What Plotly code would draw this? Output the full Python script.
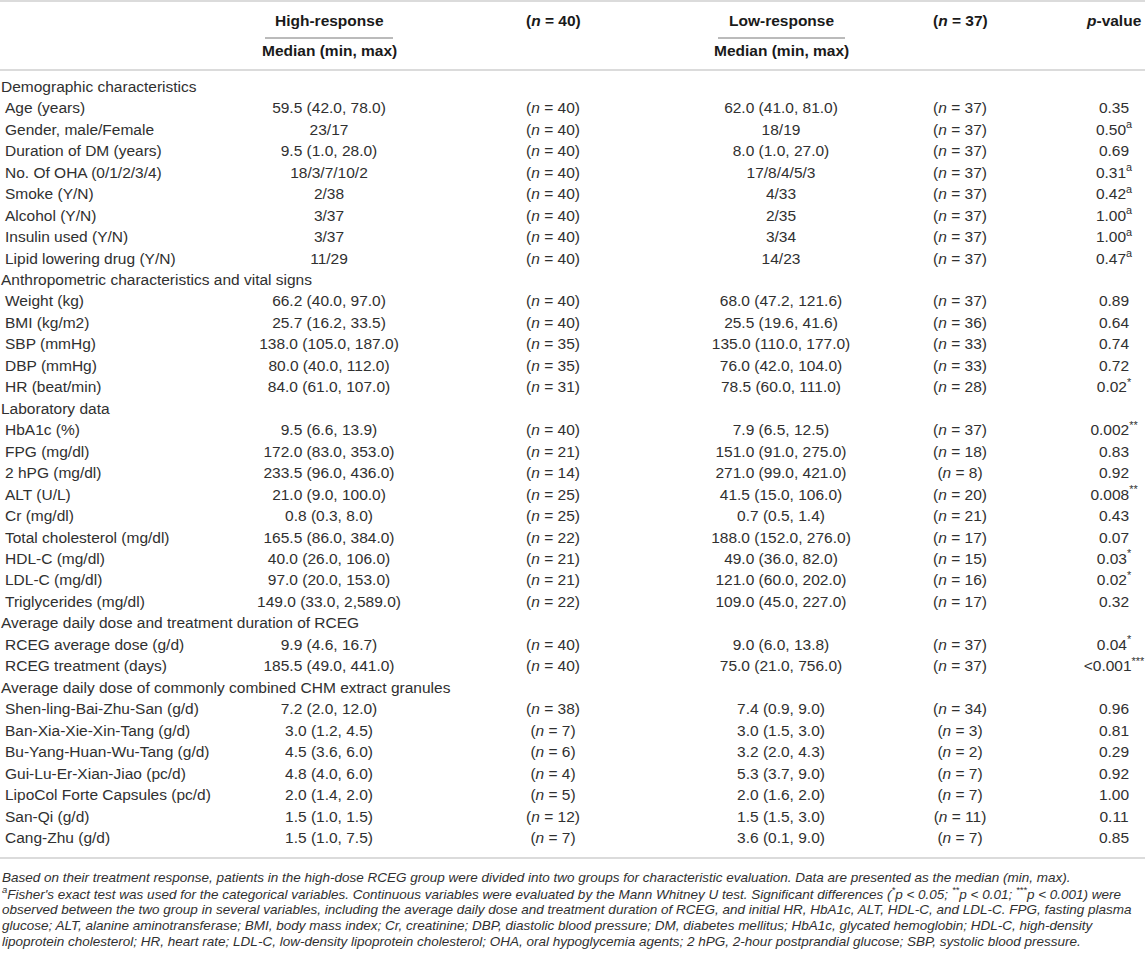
import plotly.graph_objects as go

# table content
labels = [
    "Demographic characteristics",
    "Age (years)", "Gender, male/Female", "Duration of DM (years)", "No. Of OHA (0/1/2/3/4)",
    "Smoke (Y/N)", "Alcohol (Y/N)", "Insulin used (Y/N)", "Lipid lowering drug (Y/N)",
    "Anthropometric characteristics and vital signs",
    "Weight (kg)", "BMI (kg/m2)", "SBP (mmHg)", "DBP (mmHg)", "HR (beat/min)",
    "Laboratory data",
    "HbA1c (%)", "FPG (mg/dl)", "2 hPG (mg/dl)", "ALT (U/L)", "Cr (mg/dl)",
    "Total cholesterol (mg/dl)", "HDL-C (mg/dl)", "LDL-C (mg/dl)", "Triglycerides (mg/dl)",
    "Average daily dose and treatment duration of RCEG",
    "RCEG average dose (g/d)", "RCEG treatment (days)",
    "Average daily dose of commonly combined CHM extract granules",
    "Shen-ling-Bai-Zhu-San (g/d)", "Ban-Xia-Xie-Xin-Tang (g/d)", "Bu-Yang-Huan-Wu-Tang (g/d)",
    "Gui-Lu-Er-Xian-Jiao (pc/d)", "LipoCol Forte Capsules (pc/d)", "San-Qi (g/d)", "Cang-Zhu (g/d)",
]

high_median = [
    None,
    "59.5 (42.0, 78.0)", "23/17", "9.5 (1.0, 28.0)", "18/3/7/10/2",
    "2/38", "3/37", "3/37", "11/29",
    None,
    "66.2 (40.0, 97.0)", "25.7 (16.2, 33.5)", "138.0 (105.0, 187.0)", "80.0 (40.0, 112.0)", "84.0 (61.0, 107.0)",
    None,
    "9.5 (6.6, 13.9)", "172.0 (83.0, 353.0)", "233.5 (96.0, 436.0)", "21.0 (9.0, 100.0)", "0.8 (0.3, 8.0)",
    "165.5 (86.0, 384.0)", "40.0 (26.0, 106.0)", "97.0 (20.0, 153.0)", "149.0 (33.0, 2,589.0)",
    None,
    "9.9 (4.6, 16.7)", "185.5 (49.0, 441.0)",
    None,
    "7.2 (2.0, 12.0)", "3.0 (1.2, 4.5)", "4.5 (3.6, 6.0)",
    "4.8 (4.0, 6.0)", "2.0 (1.4, 2.0)", "1.5 (1.0, 1.5)", "1.5 (1.0, 7.5)",
]

high_n = [
    None, 40, 40, 40, 40, 40, 40, 40, 40,
    None, 40, 40, 35, 35, 31,
    None, 40, 21, 14, 25, 25, 22, 21, 21, 22,
    None, 40, 40,
    None, 38, 7, 6, 4, 5, 12, 7,
]

low_median = [
    None,
    "62.0 (41.0, 81.0)", "18/19", "8.0 (1.0, 27.0)", "17/8/4/5/3",
    "4/33", "2/35", "3/34", "14/23",
    None,
    "68.0 (47.2, 121.6)", "25.5 (19.6, 41.6)", "135.0 (110.0, 177.0)", "76.0 (42.0, 104.0)", "78.5 (60.0, 111.0)",
    None,
    "7.9 (6.5, 12.5)", "151.0 (91.0, 275.0)", "271.0 (99.0, 421.0)", "41.5 (15.0, 106.0)", "0.7 (0.5, 1.4)",
    "188.0 (152.0, 276.0)", "49.0 (36.0, 82.0)", "121.0 (60.0, 202.0)", "109.0 (45.0, 227.0)",
    None,
    "9.0 (6.0, 13.8)", "75.0 (21.0, 756.0)",
    None,
    "7.4 (0.9, 9.0)", "3.0 (1.5, 3.0)", "3.2 (2.0, 4.3)",
    "5.3 (3.7, 9.0)", "2.0 (1.6, 2.0)", "1.5 (1.5, 3.0)", "3.6 (0.1, 9.0)",
]

low_n = [
    None, 37, 37, 37, 37, 37, 37, 37, 37,
    None, 37, 36, 33, 33, 28,
    None, 37, 18, 8, 20, 21, 17, 15, 16, 17,
    None, 37, 37,
    None, 34, 3, 2, 7, 7, 11, 7,
]

p_values = [
    None, "0.35", "0.50", "0.69", "0.31", "0.42", "1.00", "1.00", "0.47",
    None, "0.89", "0.64", "0.74", "0.72", "0.02",
    None, "0.002", "0.83", "0.92", "0.008", "0.43", "0.07", "0.03", "0.02", "0.32",
    None, "0.04", "<0.001",
    None, "0.96", "0.81", "0.29", "0.92", "1.00", "0.11", "0.85",
]

p_marks = [
    None, "", "a", "", "a", "a", "a", "a", "a",
    None, "", "", "", "", "*",
    None, "**", "", "", "**", "", "", "*", "*", "",
    None, "*", "***",
    None, "", "", "", "", "", "", "",
]

footnote = [
    "Based on their treatment response, patients in the high-dose RCEG group were divided into two groups for characteristic evaluation. Data are presented as the median (min, max).",
    "<sup>a</sup>Fisher's exact test was used for the categorical variables. Continuous variables were evaluated by the Mann Whitney U test. Significant differences (<sup>*</sup>p &lt; 0.05; <sup>**</sup>p &lt; 0.01; <sup>***</sup>p &lt; 0.001) were",
    "observed between the two group in several variables, including the average daily dose and treatment duration of RCEG, and initial HR, HbA1c, ALT, HDL-C, and LDL-C. FPG, fasting plasma",
    "glucose; ALT, alanine aminotransferase; BMI, body mass index; Cr, creatinine; DBP, diastolic blood pressure; DM, diabetes mellitus; HbA1c, glycated hemoglobin; HDL-C, high-density",
    "lipoprotein cholesterol; HR, heart rate; LDL-C, low-density lipoprotein cholesterol; OHA, oral hypoglycemia agents; 2 hPG, 2-hour postprandial glucose; SBP, systolic blood pressure.",
]

# layout (pixels)
W, H = 1145, 966
FONT = "Liberation Sans, Arial, sans-serif"
TXT = "#303030"
SIZE = 15.5
ROW0, ROW_H = 88, 21.46
COL_HIGH, COL_HN, COL_LOW, COL_LN, COL_P = 329, 553, 781, 960, 1114

rows = [ROW0 + i * ROW_H for i in range(len(labels))]
is_section = [v is None for v in high_median]

fig = go.Figure()


def add_col(x, values, fmt=str, pos="middle center"):
    # only rows that hold a value (section rows stay empty)
    keep = [i for i, v in enumerate(values) if v is not None]
    xs = [x[i] for i in keep] if isinstance(x, list) else [x] * len(keep)
    fig.add_trace(go.Scatter(
        x=xs, y=[rows[i] for i in keep], text=[fmt(values[i]) for i in keep],
        mode="text", textposition=pos,
        textfont=dict(family=FONT, size=SIZE, color=TXT),
        hoverinfo="skip", cliponaxis=False, showlegend=False,
    ))


def n_fmt(n):
    return f"(<i>n</i> = {n})"


p_text = [
    None if p is None else p.replace("<", "&lt;") + (f"<sup>{m}</sup>" if m else "")
    for p, m in zip(p_values, p_marks)
]

add_col([1 if s else 5 for s in is_section], labels, pos="middle right")
add_col(COL_HIGH, high_median)
add_col(COL_HN, high_n, n_fmt)
add_col(COL_LOW, low_median)
add_col(COL_LN, low_n, n_fmt)
add_col(COL_P, p_text)

# header
header = [
    (COL_HIGH, 20, "<b>High-response</b>"),
    (COL_HIGH, 50, "<b>Median (min, max)</b>"),
    (COL_HN, 20, "<b>(<i>n</i> = 40)</b>"),
    (COL_LOW, 20, "<b>Low-response</b>"),
    (COL_LOW, 50, "<b>Median (min, max)</b>"),
    (COL_LN, 20, "<b>(<i>n</i> = 37)</b>"),
    (COL_P, 20, "<b><i>p</i>-value</b>"),
]
for x, y, t in header:
    fig.add_annotation(x=x, y=y, text=t, showarrow=False, xanchor="center", yanchor="middle",
                       font=dict(family=FONT, size=SIZE, color="#1a1a1a"))

for i, line in enumerate(footnote):
    fig.add_annotation(x=0, y=877 + i * 16.2, text=f"<i>{line}</i>", showarrow=False,
                       xanchor="left", yanchor="middle",
                       font=dict(family=FONT, size=13.5, color=TXT))

# rules
for y0 in (1, 70, 858):
    fig.add_shape(type="line", x0=0, x1=W, y0=y0, y1=y0, line=dict(color="#cfcfcf", width=1.5))
for x0, x1 in ((265, 393), (718, 845)):
    fig.add_shape(type="line", x0=x0, x1=x1, y0=38, y1=38, line=dict(color="#777777", width=1))

fig.update_layout(
    width=W, height=H, margin=dict(l=0, r=0, t=0, b=0),
    paper_bgcolor="white", plot_bgcolor="white",
    xaxis=dict(range=[0, W], visible=False, fixedrange=True),
    yaxis=dict(range=[H, 0], visible=False, fixedrange=True),
)

fig.write_html("out.html", config={"displayModeBar": False},
               post_script="document.body.style.margin='0';")
